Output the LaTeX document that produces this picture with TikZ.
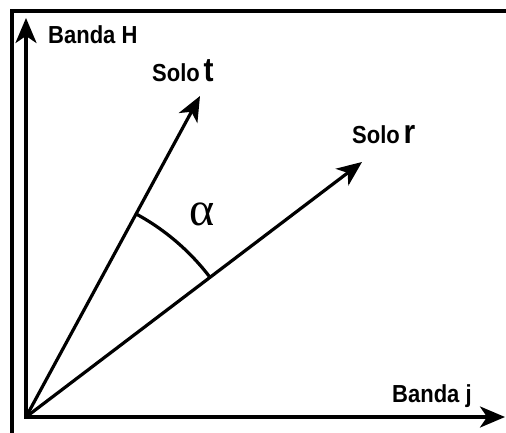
\documentclass[tikz,border=0pt]{standalone}
\usepackage{fontspec}
\setmainfont{Liberation Sans}
\newfontfamily\greekfont{Liberation Serif}
\usetikzlibrary{arrows.meta,positioning}
\newcommand{\BigLetter}[1]{{\fontsize{30}{30}\selectfont #1}}
\tikzset{
  AX/.style={{Stealth[length=25pt,width=21pt,inset=7pt]}-{Stealth[length=25pt,width=21pt,inset=7pt]},line width=3.4pt},
  VC/.style={-{Stealth[length=25pt,width=21pt,inset=7pt]},line width=3.2pt},
  FR/.style={line width=3.2pt},
  LB/.style={inner sep=0pt,anchor=base west,yscale=1.12,transform shape,
             font=\fontsize{22}{26}\selectfont\bfseries}
}

\begin{document}
\begin{tikzpicture}[x=1pt,y=1pt]
  \useasboundingbox (0,0) rectangle (506,432);
  \draw[FR] (12,-2) -- (12,421) -- (508,421);

  \coordinate (O) at (26,15);
  \coordinate (H) at (26,414);
  \coordinate (J) at (505,15);
  \coordinate (T) at (200,336);
  \coordinate (R) at (362,270);

  \draw[AX] (H) -- (O) -- (J);
  \draw[VC] (O) -- (T);
  \draw[VC] (O) -- (R);
  \draw[FR] (O) ++(37.2:231) arc[start angle=37.2,end angle=61.6,radius=231];

  \node[LB] (bh) at (48,388) {Banda H};
  \node[LB] (st) at (152,350) {Solo\,\BigLetter{t}};
  \node[LB] (sr) at (352,289) {Solo\,\BigLetter{r}};
  \node[LB] (bj) at (392,30) {Banda j};
  \node[font=\fontsize{48}{48}\selectfont\greekfont] (al) at (202,218) {α};
\end{tikzpicture}
\end{document}
